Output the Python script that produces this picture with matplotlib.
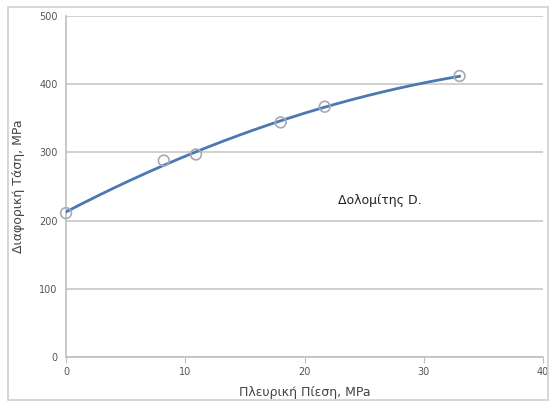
import matplotlib.pyplot as plt
import numpy as np
from matplotlib.patches import Rectangle

# datos
pleurikh = [0, 8.2, 10.9, 18.0, 21.7, 33.0]
diaforikh = [211, 288, 297, 344, 367, 412]

xticks = [0, 10, 20, 30, 40]
yticks = [0, 100, 200, 300, 400, 500]

fig = plt.figure(figsize=(5.53, 4.07), dpi=100)
fig.patches.append(Rectangle((8 / 553, 7 / 407), 540 / 553, 393 / 407,
                             transform=fig.transFigure, fill=False,
                             edgecolor='#d0d0d0', linewidth=1.2))
ax = fig.add_axes([66 / 553, 50 / 407, 477 / 553, 341 / 407])

# linea de tendencia polinomica de orden 2
coef = np.polyfit(pleurikh, diaforikh, 2)
xs = np.linspace(0, max(pleurikh), 200)
ax.plot(xs, np.polyval(coef, xs), color='#4a78b0', linewidth=2, zorder=3)
ax.scatter(pleurikh, diaforikh, s=60, facecolors='none', edgecolors='#a8a8b8',
           linewidths=1.2, zorder=4, clip_on=False)

ax.set_xlim(0, 40)
ax.set_ylim(0, 500)
ax.set_xticks(xticks)
ax.set_yticks(yticks)
ax.yaxis.grid(True, color='#c8c8c8', linewidth=1.2)
ax.set_axisbelow(True)
for s in ['top', 'right']:
    ax.spines[s].set_visible(False)
for s in ['left', 'bottom']:
    ax.spines[s].set_color('#c0c0c0')
    ax.spines[s].set_linewidth(1.2)
ax.tick_params(axis='x', colors='#c0c0c0', length=4, labelcolor='#555555', labelsize=7)
ax.tick_params(axis='y', colors='#c0c0c0', length=0, labelcolor='#555555', labelsize=7, pad=6)

ax.set_xlabel('Πλευρική Πίεση, MPa', fontsize=9, color='#444444', labelpad=6)
ax.set_ylabel('Διαφορική Τάση, MPa', fontsize=9, color='#444444', labelpad=10)
ax.text(26.3, 230, 'Δολομίτης D.', fontsize=9, color='#222222', ha='center', va='center')

plt.savefig('out.png', dpi=100)
